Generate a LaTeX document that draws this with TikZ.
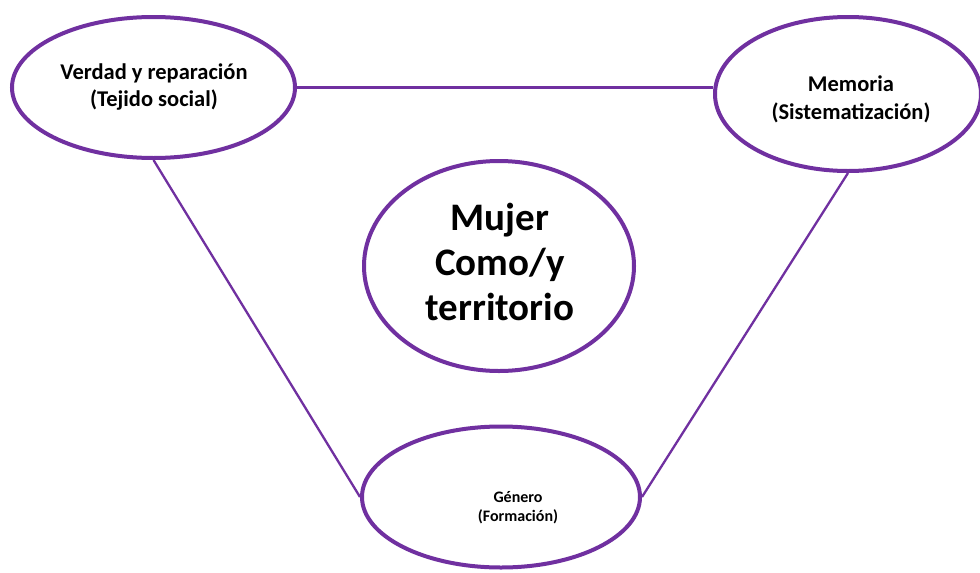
\documentclass[tikz,border=0pt]{standalone}
\usepackage{fontspec}
\setmainfont{Carlito}
\usetikzlibrary{shapes.geometric,backgrounds}
\definecolor{ringpurple}{HTML}{7030A0}
\tikzset{
  ring/.style={ellipse, draw=ringpurple, line width=4pt, fill=white, inner sep=0pt},
  link/.style={draw=ringpurple, line width=2.3pt},
  lbl/.style={align=center, text=black, inner sep=0pt}
}
\begin{document}
\begin{tikzpicture}[x=1pt,y=-1pt]
\useasboundingbox (0,0) rectangle (980,573);
\node[ring, minimum width=283pt, minimum height=141pt] (tl) at (153.5,87.5) {};
\node[ring, minimum width=266pt, minimum height=154pt] (tr) at (848,94) {};
\node[ring, minimum width=270pt, minimum height=210pt] (c) at (499,266) {};
\node[ring, minimum width=278pt, minimum height=141pt] (b) at (501,497) {};
\begin{scope}[on background layer]
\fill[white] (0,0) rectangle (980,573);
\draw[link] (tl.east) -- (tl.east -| tr.west);
\draw[link] (tl.south) -- (b.west);
\draw[link] (tr.south) -- (b.east);
\end{scope}
\node[lbl, font=\bfseries\fontsize{22.5}{27}\selectfont] (tlt) at (154,87) {Verdad y reparación\\(Tejido social)};
\node[lbl, font=\bfseries\fontsize{22.5}{28}\selectfont] (trt) at (851,99) {Memoria\\(Sistematización)};
\node[lbl, font=\bfseries\fontsize{39}{45}\selectfont] (ct) at (500,262) {Mujer\\Como/y\\territorio};
\node[lbl, font=\bfseries\fontsize{16}{19}\selectfont] (bt) at (518,508) {Género\\(Formación)};
\end{tikzpicture}
\end{document}
